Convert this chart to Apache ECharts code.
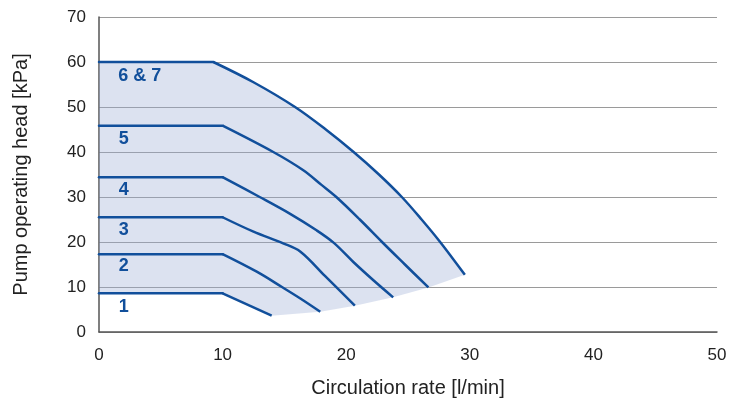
<!DOCTYPE html>
<html>
<head>
<meta charset="utf-8">
<script src="https://cdn.jsdelivr.net/npm/echarts@6/dist/echarts.min.js"></script>
<style>
html,body{margin:0;padding:0;background:#fff;}
#chart{width:731px;height:406px;}
</style>
</head>
<body>
<div id="chart"></div>
<script>
// Pump curves: [flow l/min, head kPa]
var curve67 = [[0,60],[9.25,60],[12.5,55.5],[15.86,50],[18.35,45],[20.6,40],[22.65,35],[24.5,30],[26.1,25],[27.6,20],[29.6,12.7]];
var curve5  = [[0,45.85],[10,45.85],[14.1,40],[16.5,36],[18.0,32.7],[19.2,30],[21.1,25],[22.9,20],[24.75,15],[26.65,9.9]];
var curve4  = [[0,34.4],[10,34.4],[13.0,30],[15.5,26.2],[17.6,22.6],[19.0,19.8],[20.6,15.5],[22.2,11.5],[23.8,7.7]];
var curve3  = [[0,25.5],[10,25.5],[12.5,22.3],[14.9,19.7],[16.3,17.85],[18.3,12.4],[20.7,5.85]];
var curve2  = [[0,17.3],[10,17.3],[12.76,13.4],[14.8,10],[16.26,7.5],[17.9,4.5]];
var curve1  = [[0,8.6],[10,8.6],[13.97,3.63]];
// lower boundary of the operating range (curve end points)
var rangeBottom = [[13.97,3.63],[17.9,4.5],[20.7,5.85],[23.8,7.7],[26.65,9.9],[29.6,12.7]];
// curve labels
var labelNames = ['6 & 7','5','4','3','2','1'];
var labelX = [1.55,1.6,1.6,1.6,1.6,1.6];
var labelY = [56.9,42.8,31.6,22.7,14.6,5.6];
var xTicks = [0,10,20,30,40,50];
var yTicks = [0,10,20,30,40,50,60,70];

var BLUE = '#114f9b';
var FONT = 'Liberation Sans, Arial, sans-serif';

var rangePoly = curve67.concat(rangeBottom.slice().reverse().slice(1)).concat(curve1.slice(0,2).reverse());

var chart = echarts.init(document.getElementById('chart'), null, {renderer:'canvas'});

var curves = [curve67, curve5, curve4, curve3, curve2, curve1];
var series = [{
  type:'custom',
  z:1,
  silent:true,
  data:[0],
  renderItem:function(params, api){
    var pts = rangePoly.map(function(p){ return api.coord(p); });
    return {type:'polygon', shape:{points:pts, smooth:0}, style:{fill:'rgba(155,172,212,0.35)'}};
  }
}];
curves.forEach(function(c){
  // flat part (straight)
  series.push({
    type:'line', data:c.slice(0,2), symbol:'none', z:3, silent:true,
    lineStyle:{color:BLUE, width:2.5, cap:'round'}
  });
  // falling part (smoothed)
  series.push({
    type:'line', data:c.slice(1), symbol:'none', z:3, silent:true,
    smooth:0.35,
    lineStyle:{color:BLUE, width:2.5, join:'round', cap:'butt'}
  });
});
series.push({
  type:'scatter', z:4, symbolSize:0, silent:true,
  itemStyle:{opacity:1, color:BLUE},
  data: labelNames.map(function(n,i){ return {name:n, value:[labelX[i], labelY[i]]}; }),
  label:{show:true, position:'right', distance:0, formatter:'{b}', color:BLUE, opacity:1,
         fontFamily:FONT, fontWeight:'bold', fontSize:18}
});

chart.setOption({
  animation:false,
  backgroundColor:'#fff',
  grid:{left:99, right:14, top:17, bottom:74, containLabel:false},
  xAxis:{
    type:'value', min:0, max:50, interval:10,
    name:'Circulation rate [l/min]', nameLocation:'middle', nameGap:46,
    nameTextStyle:{fontFamily:FONT, fontSize:20, color:'#222'},
    axisLine:{show:true, lineStyle:{color:'#555', width:1.5}},
    axisTick:{show:false},
    splitLine:{show:false},
    axisLabel:{margin:15, fontFamily:FONT, fontSize:17, color:'#222',
      formatter:function(v){ return xTicks.indexOf(v)>=0 ? String(v) : ''; }}
  },
  yAxis:{
    type:'value', min:0, max:70, interval:10,
    name:'Pump operating head [kPa]', nameLocation:'middle', nameGap:68, nameRotate:90,
    nameTextStyle:{fontFamily:FONT, fontSize:20, color:'#222'},
    axisLine:{show:true, lineStyle:{color:'#555', width:1.5}},
    axisTick:{show:false},
    splitLine:{show:true, lineStyle:{color:'#9a9a9a', width:1}},
    axisLabel:{margin:13, fontFamily:FONT, fontSize:17, color:'#222',
      formatter:function(v){ return yTicks.indexOf(v)>=0 ? String(v) : ''; }}
  },
  series:series
});
</script>
</body>
</html>
